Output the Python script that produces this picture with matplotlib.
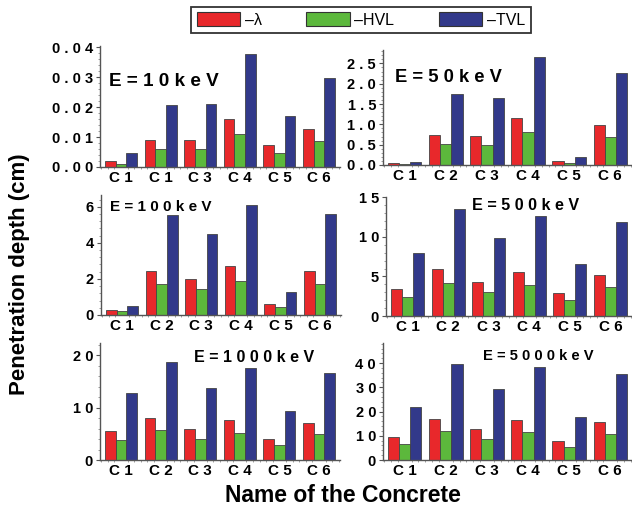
import numpy as np
import matplotlib
matplotlib.use('Agg')
import matplotlib.pyplot as plt
from matplotlib.ticker import AutoMinorLocator, FuncFormatter, MultipleLocator
from matplotlib.patches import Patch

plt.rcParams['font.family'] = ['Liberation Sans', 'DejaVu Sans']

# penetration depth values (cm)
lam_10 = [0.0019, 0.0090, 0.0090, 0.0160, 0.0072, 0.0128]
hvl_10 = [0.0011, 0.0061, 0.0061, 0.0109, 0.0047, 0.0087]
tvl_10 = [0.0047, 0.0208, 0.0210, 0.0377, 0.0171, 0.0299]

lam_50 = [0.05, 0.75, 0.71, 1.15, 0.10, 0.98]
hvl_50 = [0.03, 0.52, 0.49, 0.80, 0.06, 0.68]
tvl_50 = [0.07, 1.75, 1.66, 2.66, 0.20, 2.26]

lam_100 = [0.28, 2.46, 1.98, 2.70, 0.59, 2.46]
hvl_100 = [0.20, 1.70, 1.42, 1.90, 0.44, 1.74]
tvl_100 = [0.50, 5.56, 4.49, 6.09, 1.27, 5.60]

lam_500 = [3.41, 5.90, 4.34, 5.56, 2.86, 5.18]
hvl_500 = [2.44, 4.13, 3.03, 3.88, 2.02, 3.67]
tvl_500 = [7.92, 13.52, 9.90, 12.68, 6.61, 11.88]

lam_1000 = [5.52, 8.06, 5.90, 7.62, 4.06, 7.11]
hvl_1000 = [3.81, 5.71, 4.06, 5.21, 2.79, 4.89]
tvl_1000 = [12.83, 18.73, 13.78, 17.59, 9.40, 16.50]

lam_5000 = [9.5, 17.0, 12.7, 16.6, 7.7, 15.6]
hvl_5000 = [6.5, 11.9, 8.8, 11.6, 5.4, 10.6]
tvl_5000 = [21.9, 39.6, 29.5, 38.3, 17.8, 35.6]

cats_first = ['C 1', 'C 1', 'C 3', 'C 4', 'C 5', 'C 6']
cats = ['C 1', 'C 2', 'C 3', 'C 4', 'C 5', 'C 6']

RED = '#e8282b'
GREEN = '#5cb83c'
BLUE = '#32398a'

W, H = 632, 514
fig = plt.figure(figsize=(W / 100, H / 100), dpi=100)


def px_axes(left, right, bottom, top):
    return fig.add_axes([left / W, 1 - bottom / H, (right - left) / W, (bottom - top) / H])


def spaced(fmt):
    return FuncFormatter(lambda v, p: ' '.join(fmt % v))


panels = [
    # (box, data, labels, ylim, major, fmt, title, title pos, title size)
    ((100, 340, 167, 46), (lam_10, hvl_10, tvl_10), cats_first, 0.0405, 0.01, '%.2f',
     'E = 1 0 k e V', (109, 82), 13.6),
    ((383, 632, 165, 50), (lam_50, hvl_50, tvl_50), cats, 2.83, 0.5, '%.1f',
     'E = 5 0 k e V', (395, 77), 13.2),
    ((101, 341, 315, 195), (lam_100, hvl_100, tvl_100), cats, 6.65, 2, '%d',
     'E = 1 0 0 k e V', (110, 207), 11),
    ((386, 632, 316, 197), (lam_500, hvl_500, tvl_500), cats, 15.05, 5, '%d',
     'E = 5 0 0 k e V', (472, 206), 11.6),
    ((100, 340, 460, 343), (lam_1000, hvl_1000, tvl_1000), cats, 22.3, 10, '%d',
     'E = 1 0 0 0 k e V', (194, 357), 11.5),
    ((383, 632, 460, 343), (lam_5000, hvl_5000, tvl_5000), cats, 48.3, 10, '%d',
     'E = 5 0 0 0 k e V', (483, 356), 10.6),
]

x = np.arange(6)
bw = 0.27
for box, (lam, hvl, tvl), labels, ytop, major, fmt, title, tpos, tsize in panels:
    ax = px_axes(*box)
    kw = dict(width=bw, edgecolor='#444444', linewidth=0.6)
    ax.bar(x - bw, lam, color=RED, **kw)
    ax.bar(x, hvl, color=GREEN, **kw)
    ax.bar(x + bw, tvl, color=BLUE, **kw)
    ax.set_xlim(-0.53, 5.53)
    ax.set_ylim(0, ytop)
    ax.set_xticks(x)
    ax.set_xticklabels(labels, fontsize=11, fontweight='bold')
    ax.yaxis.set_major_locator(MultipleLocator(major))
    ax.yaxis.set_major_formatter(spaced(fmt))
    ax.yaxis.set_minor_locator(AutoMinorLocator(5))
    ax.xaxis.set_minor_locator(AutoMinorLocator(6))
    for lab in ax.get_yticklabels():
        lab.set_fontweight('bold')
        lab.set_fontsize(10.5)
    for s in ['top', 'right']:
        ax.spines[s].set_visible(False)
    for s in ['left', 'bottom']:
        ax.spines[s].set_color('#555555')
        ax.spines[s].set_linewidth(1.0)
    ax.tick_params(axis='both', which='major', length=3, width=0.8, color='#555555', pad=2)
    ax.tick_params(axis='both', which='minor', length=1.5, width=0.5, color='#777777')
    ax.tick_params(axis='x', which='major', length=0, pad=3)
    ax.patch.set_alpha(0)
    fig.text(tpos[0] / W, 1 - tpos[1] / H, title, fontsize=tsize, fontweight='bold',
             ha='left', va='center')

handles = [Patch(facecolor=RED, edgecolor='#333333', linewidth=0.8),
           Patch(facecolor=GREEN, edgecolor='#333333', linewidth=0.8),
           Patch(facecolor=BLUE, edgecolor='#333333', linewidth=0.8)]
leg = fig.legend(handles, ['–λ', '–HVL', '–TVL'], loc='center', ncol=3,
                 bbox_to_anchor=(361 / W, 1 - 20 / H), fontsize=11.5,
                 handlelength=2.7, handleheight=0.95, handletextpad=0.3,
                 columnspacing=2.8, borderpad=0.35, borderaxespad=0,
                 fancybox=False, frameon=True)
leg.get_frame().set_edgecolor('black')
leg.get_frame().set_linewidth(1.3)

fig.text(20 / W, 1 - 274 / H, 'Penetration depth (cm)', rotation=90, fontsize=16,
         fontweight='bold', ha='center', va='center')
fig.text(343 / W, 1 - 495 / H, 'Name of the Concrete', fontsize=16.5,
         fontweight='bold', ha='center', va='center')

fig.savefig('out.png', dpi=100, facecolor='white')
